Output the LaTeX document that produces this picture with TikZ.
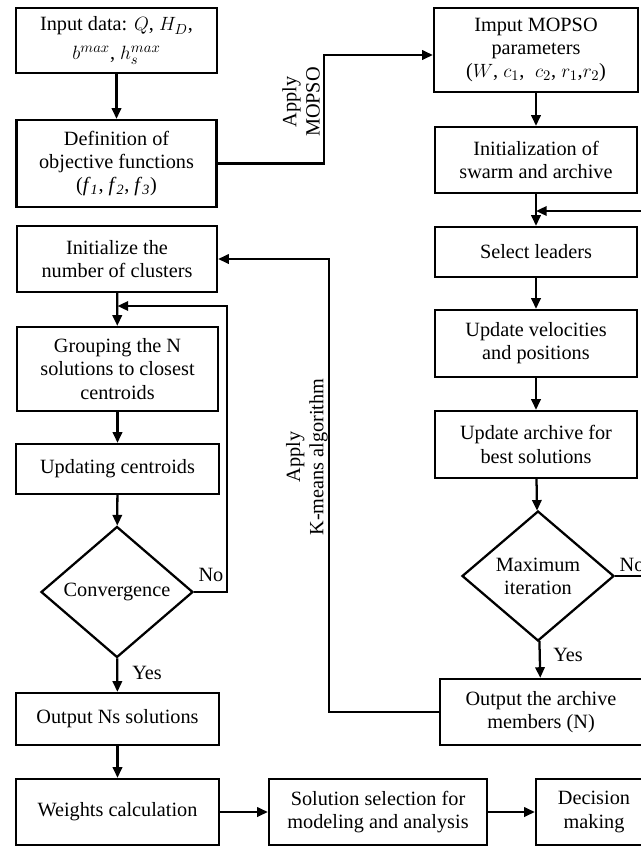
\documentclass[tikz,border=0pt]{standalone}
\usepackage{fontspec}
\setmainfont{Liberation Serif}
\usetikzlibrary{arrows.meta,shapes.geometric}
\begin{document}
\begin{tikzpicture}[x=0.75pt,y=-0.75pt,
  every node/.style={font=\fontsize{15.2}{17.4}\selectfont},
  box/.style={draw,line width=1.7pt,rectangle,align=center,inner sep=0pt},
  dia/.style={draw,line width=1.7pt,diamond,align=center,inner sep=0pt},
  arr/.style={line width=1.7pt,-{Triangle[length=8pt,width=7pt]}},
  lbl/.style={inner sep=0pt}]
\useasboundingbox (0,0) rectangle (641,847);
\clip (0,0) rectangle (641,847);
% left column
\node[box,minimum width=150.75pt,minimum height=48.75pt] (in) at (116.5,40.5)
  {Input data: $Q$, $H_D$,\\[4pt] $b^{max}$, $h_s^{max}$};
\node[box,minimum width=150pt,minimum height=65.25pt] (def) at (116.5,163.5)
  {Definition of\\ objective functions\\ (\textit{f}\textsubscript{\textit{1}}, \textit{f}\textsubscript{\textit{2}}, \textit{f}\textsubscript{\textit{3}})};
\node[box,minimum width=150pt,minimum height=49.5pt] (clus) at (117,259)
  {Initialize the\\ number of clusters};
\node[box,minimum width=150.75pt,minimum height=63pt] (grp) at (117.5,369)
  {Grouping the N\\ solutions to closest\\ centroids};
\node[box,minimum width=152.25pt,minimum height=37.5pt] (upd) at (117.5,469)
  {Updating centroids};
\node[dia,minimum width=114pt,minimum height=98.25pt] (conv) at (117,592)
  {Convergence};
\node[box,minimum width=152.25pt,minimum height=39pt] (outNs) at (117.5,719)
  {Output Ns solutions};
\node[box,minimum width=152.25pt,minimum height=49.5pt] (wts) at (117.5,812)
  {Weights calculation};
\node[box,minimum width=163.5pt,minimum height=49.5pt] (sol) at (378,812)
  {Solution selection for\\ modeling and analysis};
\node[box,minimum width=87pt,minimum height=49.5pt] (dec) at (594,812)
  {Decision\\ making};
% right column
\node[box,minimum width=153pt,minimum height=63pt] (mop) at (536,50)
  {Imput MOPSO\\ parameters\\ ($W$, $c_1$,\; $c_2$, $r_1$,$r_2$)};
\node[box,minimum width=151.5pt,minimum height=49.5pt] (init) at (536,160)
  {Initialization of\\ swarm and archive};
\node[box,minimum width=151.5pt,minimum height=37.5pt] (sel) at (536,252)
  {Select leaders};
\node[box,minimum width=151.5pt,minimum height=50.25pt] (vel) at (536,343.5)
  {Update velocities\\ and positions};
\node[box,minimum width=151.5pt,minimum height=50.25pt] (arc) at (536,444.5)
  {Update archive for\\ best solutions};
\node[dia,minimum width=114pt,minimum height=97.5pt] (maxit) at (538,576)
  {Maximum\\ iteration};
\node[box,minimum width=151.5pt,minimum height=49.5pt] (outA) at (541,712)
  {Output the archive\\ members (N)};
% coordinates
\coordinate (m1) at (324,55);
\coordinate (fb1) at (655,576);
\coordinate (fb2) at (655,211);
\coordinate (k1) at (329,712);
\coordinate (k2) at (329,259);
\coordinate (c1) at (227,592);
\coordinate (c2) at (227,306);
% connectors
\draw[arr] (in) -- (def);
\draw[arr] (def.east) -| (m1) -- (m1 -| mop.west);
\draw[arr] (mop) -- (init);
\draw[arr] (init) -- (sel);
\draw[arr] (sel) -- (vel);
\draw[arr] (vel) -- (arc);
\draw[arr] (arc) -- (maxit);
\draw[arr] (maxit) -- (outA);
\draw[arr] (maxit.east) -- (fb1) -- (fb2) -- (fb2 -| init.south);
\draw[arr] (outA.west) -- (k1) -- (k2) -- (clus.east);
\draw[arr] (clus) -- (grp);
\draw[arr] (grp) -- (upd);
\draw[arr] (upd) -- (conv);
\draw[arr] (conv.east) -- (c1) -- (c2) -- (c2 -| grp.north);
\draw[arr] (conv) -- (outNs);
\draw[arr] (outNs) -- (wts);
\draw[arr] (wts) -- (sol);
\draw[arr] (sol) -- (dec);
% labels
\node[lbl] (no1) at (211,575) {No};
\node[lbl] (no2) at (632,565) {No};
\node[lbl] (yes1) at (147,673) {Yes};
\node[lbl] (yes2) at (568,655) {Yes};
\node[lbl,rotate=90,align=center] (lm) at (301,102) {Apply\\ MOPSO};
\node[lbl,rotate=90,align=center] (lk) at (307,457) {Apply\\ K-means algorithm};
\end{tikzpicture}
\end{document}
